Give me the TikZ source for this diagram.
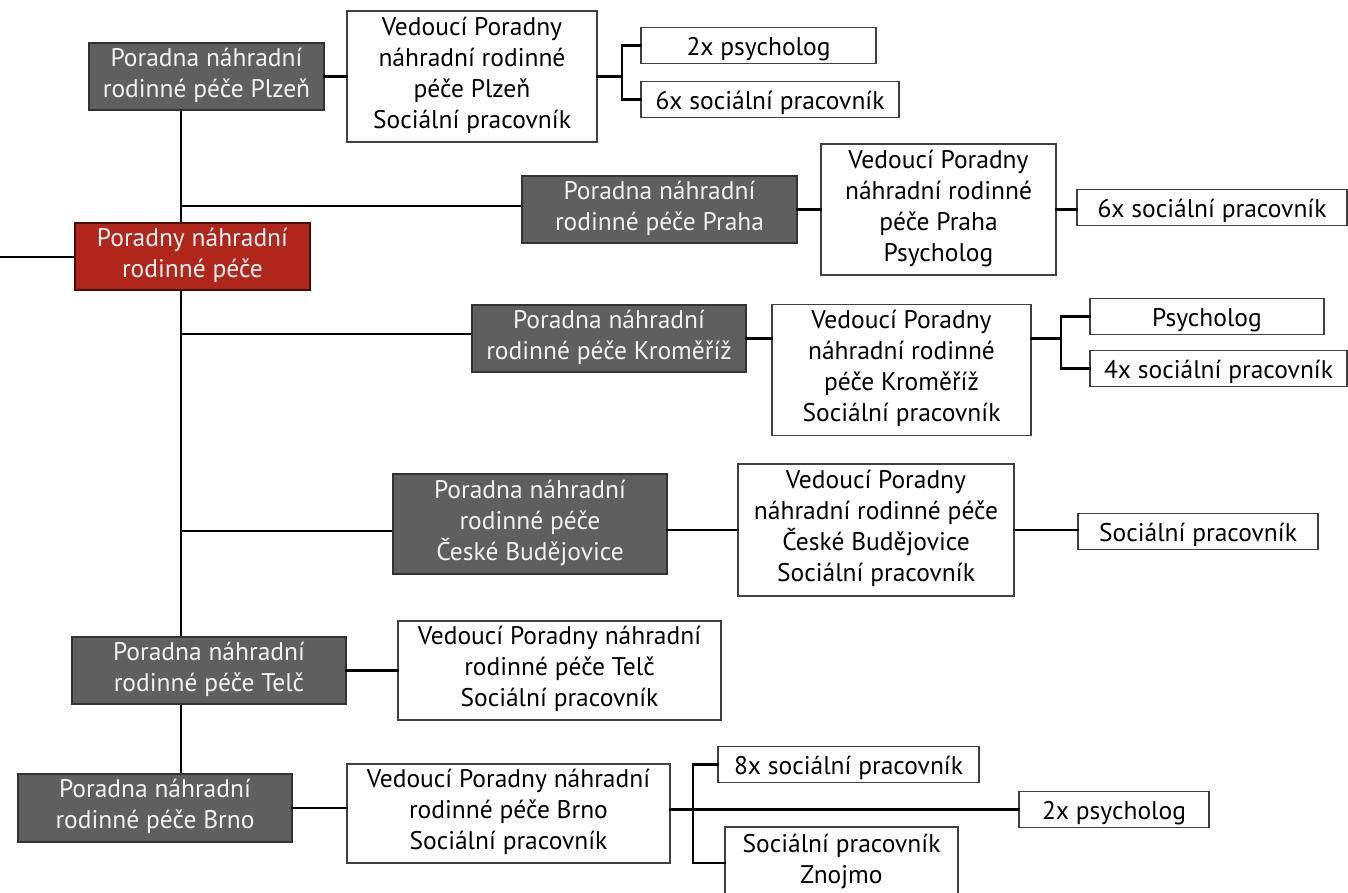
\documentclass[tikz,border=0pt]{standalone}
\usepackage{fontspec}
\setmainfont{PT Sans}
\usepackage{tikz}
\usetikzlibrary{positioning}

\definecolor{unitgray}{HTML}{5F5F5F}
\definecolor{rootred}{HTML}{B0261B}

\tikzset{
  box/.style={draw, line width=1.4pt, inner sep=0pt, align=center,
    font=\fontsize{25.5}{31}\selectfont,
    execute at begin node={\rule{0pt}{28pt}},
    execute at end node={\rule[-8pt]{0pt}{8pt}}},
  unit/.style={box, fill=unitgray, draw=black!80, text=white!95!black},
  rootbox/.style={box, fill=rootred, draw=rootred!40!black, text=white!95!black},
  staff/.style={box, fill=white, draw=black!75},
  link/.style={line width=2.6pt, line cap=rect}
}

\begin{document}
\begin{tikzpicture}[x=1pt,y=-1pt]
		\useasboundingbox (0,0) rectangle (1348,893);
		%
		\coordinate (in) at (0,257);
		\coordinate (spine) at (181,0);
		\coordinate (f1) at (622,0);
		\coordinate (f2) at (1061,0);
		\coordinate (f3) at (693,0);
		%
		\draw[link]
		(in) -- (192,257)
		(spine |- 0,110) -- (spine |- 0,774)
		(spine |- 0,206) -- (522,206)
		(spine |- 0,334) -- (472,334)
		(spine |- 0,531) -- (393,531)
		(spine |- 0,671) -- (209,671);
		%
		\node[rootbox, minimum width=235, minimum height=67] (root) at (192.5,256.5) {Poradny náhradní\\rodinné péče};
		%
		\node[unit, minimum width=235, minimum height=67] (plzen) at (206.5,76.5) {Poradna náhradní\\rodinné péče Plzeň};
		\node[unit, minimum width=275, minimum height=67] (praha) at (659.5,209.5) {Poradna náhradní\\rodinné péče Praha};
		\node[unit, minimum width=274, minimum height=67] (krom) at (609,338.5) {Poradna náhradní\\rodinné péče Kroměříž};
		\node[unit, minimum width=274, minimum height=100] (cb) at (530,524) {Poradna náhradní\\rodinné péče\\České Budějovice};
		\node[unit, minimum width=274, minimum height=67] (telc) at (209,670.5) {Poradna náhradní\\rodinné péče Telč};
		\node[unit, minimum width=274, minimum height=68] (brno) at (155,808) {Poradna náhradní\\rodinné péče Brno};
		%
		\node[staff, minimum width=250, minimum height=131] (vedplzen) at (472,76.5) {Vedoucí Poradny\\náhradní rodinné\\péče Plzeň\\Sociální pracovník};
		\node[staff, minimum width=235, minimum height=131] (vedpraha) at (938.5,209.5) {Vedoucí Poradny\\náhradní rodinné\\péče Praha\\Psycholog};
		\node[staff, minimum width=259, minimum height=131] (vedkrom) at (901.5,370) {Vedoucí Poradny\\náhradní rodinné\\péče Kroměříž\\Sociální pracovník};
		\node[staff, minimum width=276, minimum height=132] (vedcb) at (876,530) {Vedoucí Poradny\\náhradní rodinné péče\\České Budějovice\\Sociální pracovník};
		\node[staff, minimum width=323, minimum height=99] (vedtelc) at (559.5,670.5) {Vedoucí Poradny náhradní\\rodinné péče Telč\\Sociální pracovník};
		\node[staff, minimum width=323, minimum height=99] (vedbrno) at (508.5,813.5) {Vedoucí Poradny náhradní\\rodinné péče Brno\\Sociální pracovník};
		%
		\node[staff, minimum width=235, minimum height=35] (psyplzen) at (758.5,45.5) {2x psycholog};
		\node[staff, minimum width=258, minimum height=35] (socplzen) at (770,99.5) {6x sociální pracovník};
		\node[staff, minimum width=270, minimum height=35] (socpraha) at (1212,207.5) {6x sociální pracovník};
		\node[staff, minimum width=234, minimum height=35] (psykrom) at (1207,316.5) {Psycholog};
		\node[staff, minimum width=257, minimum height=35] (sockrom) at (1218.5,368.5) {4x sociální pracovník};
		\node[staff, minimum width=240, minimum height=35] (soccb) at (1198,531.5) {Sociální pracovník};
		\node[staff, minimum width=261, minimum height=35] (socbrno) at (848.5,764.5) {8x sociální pracovník};
		\node[staff, minimum width=190, minimum height=35] (psybrno) at (1114,809.5) {2x psycholog};
		\node[staff, minimum width=233, minimum height=72] (znojmo) at (841.5,863) {Sociální pracovník\\Znojmo};
		%
		\draw[link]
		(plzen.east) -- (vedplzen.west)
		(praha.east) -- (vedpraha.west)
		(krom.east) -- (krom.east -| vedkrom.west)
		(cb.east |- vedcb.west) -- (vedcb.west)
		(telc.east) -- (vedtelc.west)
		(brno.east) -- (brno.east -| vedbrno.west)
		(vedpraha.east) -- (vedpraha.east -| socpraha.west)
		(vedcb.east) -- (vedcb.east -| soccb.west)
		(vedbrno.east |- psybrno.west) -- (psybrno.west);
		%
		\draw[link]
		(vedplzen.east) -- (f1 |- vedplzen.east)
		(psyplzen.west) -| (f1 |- vedplzen.east) |- (socplzen.west)
		(vedkrom.east |- krom.east) -- (f2 |- krom.east)
		(psykrom.west) -| (f2 |- krom.east) |- (sockrom.west)
		(socbrno.west) -| (f3 |- psybrno.west) |- (znojmo.west);
		\end{tikzpicture}
\end{document}
